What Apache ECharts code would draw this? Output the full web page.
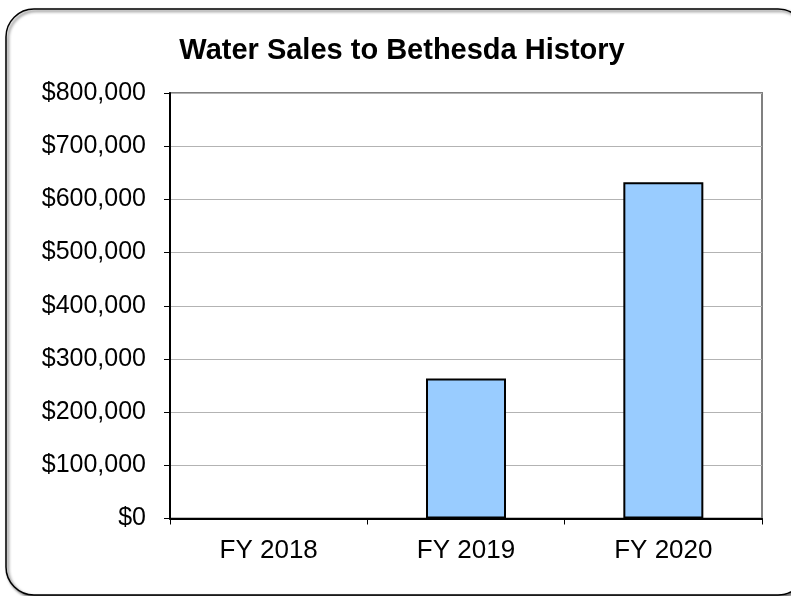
<!DOCTYPE html>
<html>
<head>
<meta charset="utf-8">
<script src="https://cdn.jsdelivr.net/npm/echarts@6/dist/echarts.min.js"></script>
<style>
html,body{margin:0;padding:0;background:#fff;}
#c{width:791px;height:596px;}
</style>
</head>
<body>
<div id="c"></div>
<script>
var categories = ['FY 2018', 'FY 2019', 'FY 2020'];
var sales = [0, 263000, 632000];
var yTicks = [0, 100000, 200000, 300000, 400000, 500000, 600000, 700000, 800000];

var chart = echarts.init(document.getElementById('c'), null, {renderer: 'canvas'});
function fmt(v) {
  return '$' + String(Math.round(v)).replace(/\B(?=(\d{3})+(?!\d))/g, ',');
}
var barData = sales.map(function (v) {
  return v === 0 ? {value: v, itemStyle: {borderWidth: 0}} : v;
});
chart.setOption({
  animation: false,
  backgroundColor: '#fff',
  title: {
    text: 'Water Sales to Bethesda History',
    left: 397, top: 31, textAlign: 'center',
    textStyle: {fontFamily: 'Liberation Sans', fontSize: 29, fontWeight: 'bold', color: '#000'}
  },
  graphic: [{
    type: 'rect', z: -1,
    shape: {x: 6, y: 9, width: 800, height: 586, r: 28},
    style: {fill: '#fff', stroke: '#000', lineWidth: 1.5, shadowBlur: 3, shadowOffsetX: 2, shadowOffsetY: 2, shadowColor: 'rgba(0,0,0,0.6)'}
  }],
  grid: {left: 170, right: 29, top: 93, bottom: 77.5, show: true, borderColor: '#808080', borderWidth: 2, backgroundColor: 'transparent'},
  xAxis: {
    type: 'category', data: categories,
    axisLine: {lineStyle: {color: '#000', width: 2}},
    axisTick: {show: true, length: 6, alignWithLabel: false, lineStyle: {color: '#000', width: 1}},
    axisLabel: {margin: 19, fontFamily: 'Liberation Sans', fontSize: 26, color: '#000'}
  },
  yAxis: {
    type: 'value', min: yTicks[0], max: yTicks[yTicks.length - 1], interval: yTicks[1] - yTicks[0],
    axisLine: {show: true, lineStyle: {color: '#000', width: 2}},
    axisTick: {show: true, length: 6, lineStyle: {color: '#000', width: 1}},
    splitLine: {lineStyle: {color: '#b3b3b3', width: 1}},
    axisLabel: {margin: 24, fontFamily: 'Liberation Sans', fontSize: 25, color: '#000', formatter: fmt}
  },
  series: [{
    type: 'bar', data: barData, barWidth: 80,
    itemStyle: {color: '#99ccff', borderColor: '#000', borderWidth: 2}
  }]
});
</script>
</body>
</html>
